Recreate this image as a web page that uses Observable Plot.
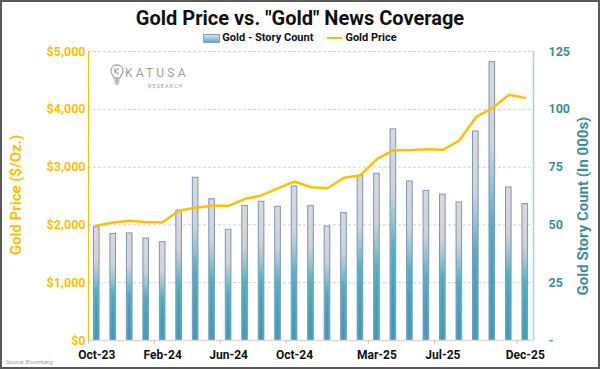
<!DOCTYPE html>
<html><head><meta charset="utf-8">
<script src="https://cdn.jsdelivr.net/npm/d3@7"></script>
<script src="https://cdn.jsdelivr.net/npm/@observablehq/plot@0.6"></script>
<style>
body{margin:0;background:#fff;font-family:Roboto,"Liberation Sans",sans-serif;}
#frame{position:relative;width:600px;height:369px;overflow:hidden;background:#fff;}
#border{position:absolute;left:0;top:0;width:600px;height:369px;box-sizing:border-box;border:2px solid #595959;z-index:10;pointer-events:none;}
#title{position:absolute;left:0;top:5px;width:600px;text-align:center;font-weight:700;font-size:20px;color:#111;line-height:26px;}
#legend{position:absolute;top:31px;left:0;width:600px;display:flex;justify-content:center;align-items:center;font-size:11px;font-weight:700;color:#111;line-height:14px;}
#legend .item{display:flex;align-items:center;margin:0 7px;}
#legend .sw{width:15px;height:7px;border:1px solid #8a9cc4;background:linear-gradient(#e0e0e0,#55b4c2);margin-right:2px;}
#legend .ln{width:15px;height:2.5px;background:#FFC000;margin-right:3px;}
#chart{position:absolute;left:0;top:44px;}
.ylab{position:absolute;font-weight:700;font-size:15px;white-space:nowrap;transform:translate(-50%,-50%) rotate(-90deg);}
#logo{position:absolute;left:110px;top:64px;color:#a0a0a0;}
#logo .k{position:absolute;left:15px;top:2px;font-size:12px;letter-spacing:3.2px;font-weight:400;}
#logo .r{position:absolute;left:38px;top:19px;font-size:5.5px;letter-spacing:1px;}
#source{position:absolute;left:6px;top:359px;font-size:5.5px;color:#a0a0a0;}
</style></head>
<body>
<div id="frame">
  <div id="title">Gold Price vs. "Gold" News Coverage</div>
  <div id="legend">
    <div class="item"><div class="sw"></div>Gold - Story Count</div>
    <div class="item"><div class="ln"></div>Gold Price</div>
  </div>
  <div id="chart"></div>
  <div class="ylab" style="left:16px;top:195px;color:#FFC000;">Gold Price ($/Oz.)</div>
  <div class="ylab" style="left:583px;top:206px;color:#3d8f98;">Gold Story Count (In 000s)</div>
  <div id="logo">
    <svg width="14" height="24" viewBox="0 0 14 24" style="position:absolute;left:0;top:0">
      <path d="M7 1 C3 1 1 4 1 7 C1 10 3.5 11.5 4 14 L10 14 C10.5 11.5 13 10 13 7 C13 4 11 1 7 1 Z" fill="none" stroke="#a8a8a8" stroke-width="1.3"/>
      <path d="M5 4 L5 10 M5 7 L9 4 M5 7 L9 10" fill="none" stroke="#a8a8a8" stroke-width="1.2"/>
      <path d="M4.5 16 L9.5 16 M4.5 18 L9.5 18 M5.5 20 L8.5 20" stroke="#a8a8a8" stroke-width="1.3"/>
    </svg>
    <div class="k">KATUSA</div>
    <div class="r">RESEARCH</div>
  </div>
  <div id="source">Source: Bloomberg</div>
  <div id="border"></div>
</div>
<script>
const months = ["Oct-23","Nov-23","Dec-23","Jan-24","Feb-24","Mar-24","Apr-24","May-24","Jun-24","Jul-24","Aug-24","Sep-24","Oct-24","Nov-24","Dec-24","Jan-25","Feb-25","Mar-25","Apr-25","May-25","Jun-25","Jul-25","Aug-25","Sep-25","Oct-25","Nov-25","Dec-25"];
const storyCount = [49.0,46.1,46.3,44.1,42.5,56.2,70.4,61.1,47.9,58.2,60.0,57.8,66.6,58.1,49.3,55.1,71.1,72.1,91.3,68.8,64.7,63.1,59.7,90.4,120.4,66.2,59.0];
const goldPrice = [1990,2041,2070,2047,2047,2249,2295,2330,2330,2451,2509,2635,2751,2652,2635,2815,2860,3137,3292,3292,3310,3299,3460,3863,4019,4250,4198];
const tickLabelMonths = ["Oct-23","Feb-24","Jun-24","Oct-24","Mar-25","Jul-25","Dec-25"];
const priceTicks = [0,1000,2000,3000,4000,5000];
const countTicks = [0,25,50,75,100,125];

const priceMax = 5000, countMax = 125;
const ratio = priceMax / countMax;
const data = months.map((m, i) => ({i, m, count: storyCount[i], price: goldPrice[i]}));
const labelIdx = tickLabelMonths.map(m => months.indexOf(m));
const boundaryIdx = labelIdx.map(i => i - 0.5);
const half = 0.17, stripe = 0.06;

const chart = Plot.plot({
  width: 600, height: 322,
  marginTop: 7, marginBottom: 26, marginLeft: 88, marginRight: 67,
  style: {fontFamily: "Roboto, 'Liberation Sans', sans-serif", fontSize: "12px", background: "transparent"},
  x: {type: "linear", domain: [-0.5, months.length - 0.5]},
  y: {domain: [0, priceMax]},
  marks: [
    Plot.gridY(priceTicks.filter(d => d > 0), {stroke: "#cfcfcf", strokeOpacity: 1, strokeDasharray: "3,2"}),
    Plot.rectY(data, {x1: d => d.i - half, x2: d => d.i + half, y1: 0, y2: d => d.count * ratio,
      fill: "url(#barGrad)", stroke: "#7b93c3", strokeWidth: 1}),
    Plot.rectY(data, {x1: d => d.i - stripe, x2: d => d.i + stripe, y1: 0, y2: d => d.count * ratio,
      fill: "url(#stripeGrad)"}),
    Plot.ruleY([0], {stroke: "#d9d9d9", strokeWidth: 1.5}),
    Plot.ruleX([-0.5], {stroke: "#FFC000", strokeWidth: 1}),
    Plot.ruleX([months.length - 0.5], {stroke: "#a6d3db", strokeWidth: 1.5}),
    Plot.line(data, {x: "i", y: "price", stroke: "#FFC000", strokeWidth: 2.5}),
    Plot.axisX({ticks: boundaryIdx, tickSize: 4, tickFormat: () => "", stroke: "#c4c4c4", label: null}),
    Plot.axisX({ticks: labelIdx, tickSize: 0, tickPadding: 10, tickFormat: i => months[i],
      fill: "#111", fontWeight: "bold", fontSize: 12, label: null}),
    Plot.axisY({anchor: "left", ticks: priceTicks, tickSize: 0, tickPadding: 3,
      tickFormat: d => "$" + d3.format(",")(d), fill: "#FFC000", fontWeight: "bold", fontSize: 12.5, label: null}),
    Plot.axisY({anchor: "right", ticks: countTicks.map(c => c * ratio), tickSize: 0, tickPadding: 15,
      tickFormat: d => d === 0 ? "-" : String(d / ratio), fill: "#3d8f98", fontWeight: "bold", fontSize: 12.5, label: null})
  ]
});

const defs = d3.select(chart).insert("defs", ":first-child");
const g = defs.append("linearGradient").attr("id", "barGrad").attr("x1", 0).attr("y1", 0).attr("x2", 0).attr("y2", 1);
g.append("stop").attr("offset", "0%").attr("stop-color", "#d9d9d9");
g.append("stop").attr("offset", "30%").attr("stop-color", "#cfd3d4");
g.append("stop").attr("offset", "58%").attr("stop-color", "#58b5c3");
g.append("stop").attr("offset", "100%").attr("stop-color", "#41a7b8");
const s = defs.append("linearGradient").attr("id", "stripeGrad").attr("x1", 0).attr("y1", 0).attr("x2", 0).attr("y2", 1);
s.append("stop").attr("offset", "0%").attr("stop-color", "#3f8fb3").attr("stop-opacity", 0);
s.append("stop").attr("offset", "45%").attr("stop-color", "#3f8fb3").attr("stop-opacity", 0);
s.append("stop").attr("offset", "75%").attr("stop-color", "#3f8fb3").attr("stop-opacity", 0.6);
s.append("stop").attr("offset", "100%").attr("stop-color", "#3f8fb3").attr("stop-opacity", 0.7);
document.getElementById("chart").appendChild(chart);
</script>
</body></html>
